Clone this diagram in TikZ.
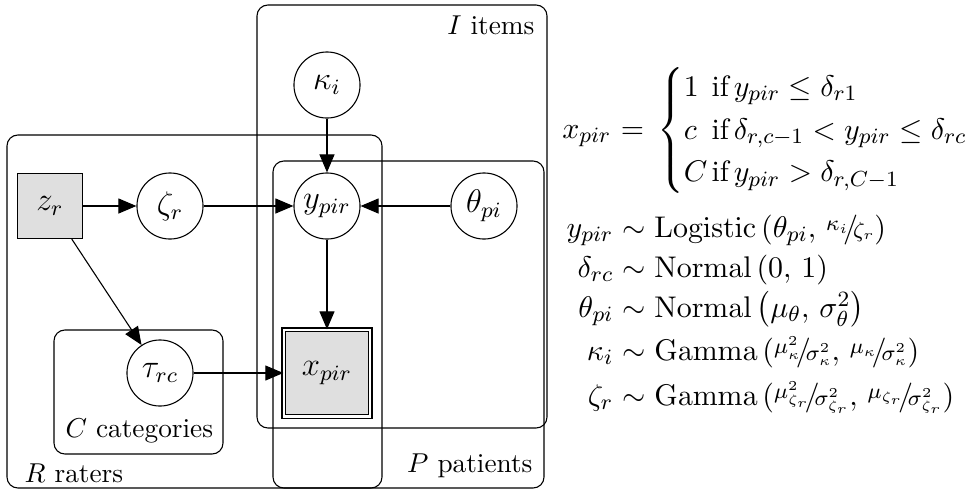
\documentclass[tikz,border=0pt]{standalone}
\usepackage{amsmath}
\usetikzlibrary{arrows.meta}
\newcommand{\nf}[2]{\raisebox{.5ex}{$\scriptstyle #1$}\!/\!{\scriptstyle #2}}
\newcommand{\ifrow}[1]{\rlap{$#1$}\hphantom{C}\hspace{1.5pt}\text{if}\,}
\begin{document}
\begin{tikzpicture}[x=0.3663pt, y=-0.3663pt,
  latent/.style={circle, draw, fill=white, minimum size=24.2pt, inner sep=0pt, font=\large},
  obsbox/.style={rectangle, draw, fill=gray!25, minimum size=23.8pt, inner sep=0pt, font=\large},
  dbox/.style={rectangle, draw, double, double distance=1pt, fill=gray!25, minimum size=31.6pt, inner sep=0pt, font=\large},
  plate/.style={draw, rounded corners=4pt},
  edge/.style={-{Triangle[length=6.6pt,width=5.5pt]}},
  platecap/.style={inner sep=0pt},
  eqlhs/.style={inner sep=0pt, anchor=base east, font=\fontsize{10.8}{13}\selectfont},
  eqrhs/.style={inner sep=0pt, anchor=base west, font=\fontsize{10.8}{13}\selectfont}]
\useasboundingbox (0,0) rectangle (968,490);
% plates
\draw[plate] (257,5) rectangle (547,428);
\draw[plate] (273,161) rectangle (544,488);
\draw[plate] (7,135) rectangle (382,488);
\draw[plate] (54,330) rectangle (223,454);
\node[platecap, anchor=base east] (capI) at (535,34) {$I$ items};
\node[platecap, anchor=base east] (capP) at (533,472) {$P$ patients};
\node[platecap, anchor=base west] (capR) at (24,482) {$R$ raters};
\node[platecap, anchor=base west] (capC) at (65,437) {$C$ categories};
% nodes
\node[latent] (kappa) at (327,85) {$\kappa_i$};
\node[latent] (y) at (327,206) {$y_{pir}$};
\node[latent] (theta) at (484,206) {$\theta_{pi}$};
\node[latent] (zeta) at (170,206) {$\zeta_r$};
\node[obsbox] (z) at (50,206) {$z_r$};
\node[latent] (tau) at (160,373) {$\tau_{rc}$};
\node[dbox] (x) at (327,373) {$x_{pir}$};
% edges
\draw[edge] (z) -- (zeta);
\draw[edge] (zeta) -- (y);
\draw[edge] (theta) -- (y);
\draw[edge] (kappa) -- (y);
\draw[edge] (y) -- (x);
\draw[edge] (z) -- (tau);
\draw[edge] (tau) -- (x);
% equations
\node[eqlhs] (l0) at (612,138) {$x_{pir}$};
\node[eqrhs] (r0) at (612,138) {${}={}\begin{cases}
\ifrow{1} y_{pir} \leq \delta_{r1}\\
\ifrow{c} \delta_{r,c-1} < y_{pir} \leq \delta_{rc}\\
\ifrow{C} y_{pir} > \delta_{r,C-1}
\end{cases}$};
\node[eqlhs] (l1) at (614,237) {$y_{pir}$};
\node[eqrhs] (r1) at (614,237) {${}\sim{}\mathrm{Logistic}\left(\theta_{pi},\, \nf{\kappa_i}{\zeta_r}\right)$};
\node[eqlhs] (l2) at (614,277) {$\delta_{rc}$};
\node[eqrhs] (r2) at (614,277) {${}\sim{}\mathrm{Normal}\left(0,\, 1\right)$};
\node[eqlhs] (l3) at (614,317) {$\theta_{pi}$};
\node[eqrhs] (r3) at (614,317) {${}\sim{}\mathrm{Normal}\left(\mu_\theta,\, \sigma^2_\theta\right)$};
\node[eqlhs] (l4) at (614,360) {$\kappa_i$};
\node[eqrhs] (r4) at (614,360) {${}\sim{}\mathrm{Gamma}\left(\nf{\mu^2_\kappa}{\sigma^2_\kappa},\, \nf{\mu_\kappa}{\sigma^2_\kappa}\right)$};
\node[eqlhs] (l5) at (614,405) {$\zeta_r$};
\node[eqrhs] (r5) at (614,405) {${}\sim{}\mathrm{Gamma}\left(\nf{\mu^2_{\zeta_r}}{\sigma^2_{\zeta_r}},\, \nf{\mu_{\zeta_r}}{\sigma^2_{\zeta_r}}\right)$};
\end{tikzpicture}
\end{document}
